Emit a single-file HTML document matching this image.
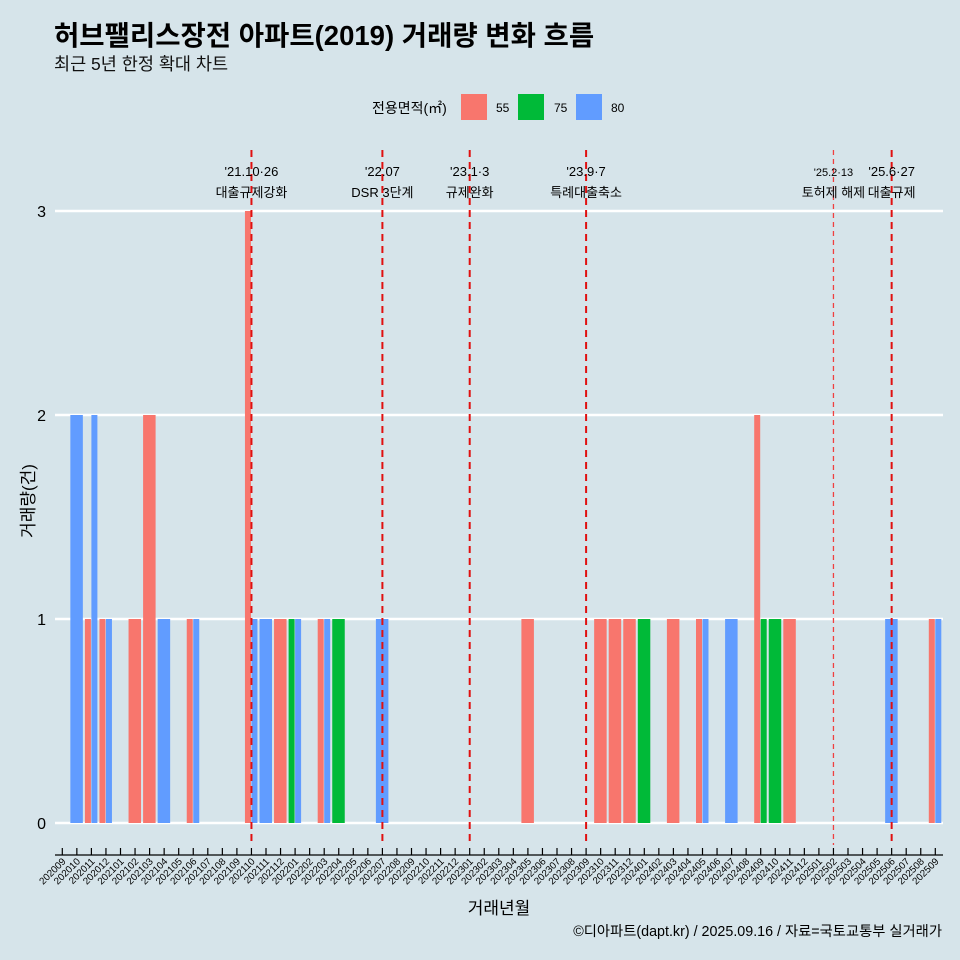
<!DOCTYPE html>
<html><head><meta charset="utf-8"><style>
body{margin:0;background:#d6e4ea;}
svg{display:block;font-family:"Liberation Sans","Noto Sans CJK KR",sans-serif;}
</style></head><body>
<svg id="c" width="960" height="960" viewBox="0 0 960 960">
<rect width="960" height="960" fill="#d6e4ea"/>
<text x="54" y="45" font-size="27.5" font-weight="bold" fill="#000">허브팰리스장전 아파트(2019) 거래량 변화 흐름</text>
<text x="54" y="70" font-size="17.5" fill="#111">최근 5년 한정 확대 차트</text>
<g>
<text x="372" y="113" font-size="14">전용면적(㎡)</text>
<rect x="461" y="94" width="26" height="26" fill="#f8766d"/>
<text x="496" y="112" font-size="12">55</text>
<rect x="518" y="94" width="26" height="26" fill="#00ba38"/>
<text x="554" y="112" font-size="12">75</text>
<rect x="576" y="94" width="26" height="26" fill="#619cff"/>
<text x="611" y="112" font-size="12">80</text>
</g>
<g id="grid"></g><g id="bars"></g><g id="events"></g><g id="xaxis"></g>
<text x="499" y="914" font-size="17" text-anchor="middle">거래년월</text>
<text transform="translate(34,501) rotate(-90)" font-size="17" text-anchor="middle">거래량(건)</text>
<text x="942" y="936" font-size="14.3" text-anchor="end">©디아파트(dapt.kr) / 2025.09.16 / 자료=국토교통부 실거래가</text>
</svg>
<script>
const months=[];for(let y=2020,m=9;!(y===2025&&m===10);){months.push(y+String(m).padStart(2,'0'));m++;if(m>12){m=1;y++;}}
const series=['55','75','80'];
const colors={'55':'#f8766d','75':'#00ba38','80':'#619cff'};
const s55={'202011':1,'202012':1,'202102':1,'202103':2,'202106':1,'202110':3,'202112':1,'202203':1,'202305':1,'202310':1,'202311':1,'202312':1,'202403':1,'202405':1,'202409':2,'202411':1,'202509':1};
const s75={'202201':1,'202204':1,'202401':1,'202409':1,'202410':1};
const s80={'202010':2,'202011':2,'202012':1,'202104':1,'202106':1,'202110':1,'202111':1,'202201':1,'202203':1,'202207':1,'202405':1,'202407':1,'202506':1,'202509':1};
const yTicks=[0,1,2,3];
const events=[['202110',"'21.10·26",'대출규제강화'],['202207',"'22.07",'DSR 3단계'],['202301',"'23.1·3",'규제완화'],['202309',"'23.9·7",'특례대출축소'],['202502',"'25.2·13",'토허제 해제'],['202506',"'25.6·27",'대출규제']];
const NS='http://www.w3.org/2000/svg';
const x=i=>62.3+i*14.55, y=v=>823-v*204;
function mk(t,a,p){const e=document.createElementNS(NS,t);for(const k in a)e.setAttribute(k,a[k]);p.appendChild(e);return e;}
const grid=document.getElementById('grid');
yTicks.forEach(v=>{
 const l=mk('line',{x1:55,x2:943,y1:y(v),y2:y(v),stroke:'#fff','stroke-width':2.5},grid);
 
 
 const t=mk('text',{x:46,y:y(v)+6,'font-size':16,'text-anchor':'end'},grid);t.textContent=v;
 
 
});
const bars=document.getElementById('bars');const data={'55':s55,'75':s75,'80':s80};
months.forEach((m,i)=>{
 const present=series.filter(s=>data[s][m]);if(!present.length)return;
 const W=13,w=W/present.length;
 present.forEach((s,j)=>{const v=data[s][m];
  const r=mk('rect',{x:x(i)-W/2+j*w,y:y(v),width:w-0.5,height:y(0)-y(v),fill:colors[s]},bars);
  
  
 });
});
const ev=document.getElementById('events');
events.forEach((e,k)=>{const i=months.indexOf(e[0]);const thin=e[0]==='202502';
 const l=mk('line',{x1:x(i),x2:x(i),y1:150,y2:845,stroke:thin?'#f04040':'#e01010','stroke-width':thin?1.3:2,'stroke-dasharray':thin?'5,4':'7,5'},ev);
 
 
 const t1=mk('text',{x:x(i),y:176,'font-size':thin?11:13,'text-anchor':'middle'},ev);t1.textContent=e[1];
 
 
 const t2=mk('text',{x:x(i),y:197,'font-size':13,'text-anchor':'middle'},ev);t2.textContent=e[2];
 
 
});
const xa=document.getElementById('xaxis');
const al=mk('line',{x1:55,x2:943,y1:855,y2:855,stroke:'#000','stroke-width':1.2},xa);


months.forEach((m,i)=>{
 mk('line',{x1:x(i),x2:x(i),y1:848,y2:855,stroke:'#000','stroke-width':1.2},xa);
 const t=mk('text',{transform:`translate(${x(i)+4},${862}) rotate(-45)`,'font-size':9.8,'text-anchor':'end'},xa);t.textContent=m;
 
 
});
</script>
</body></html>
